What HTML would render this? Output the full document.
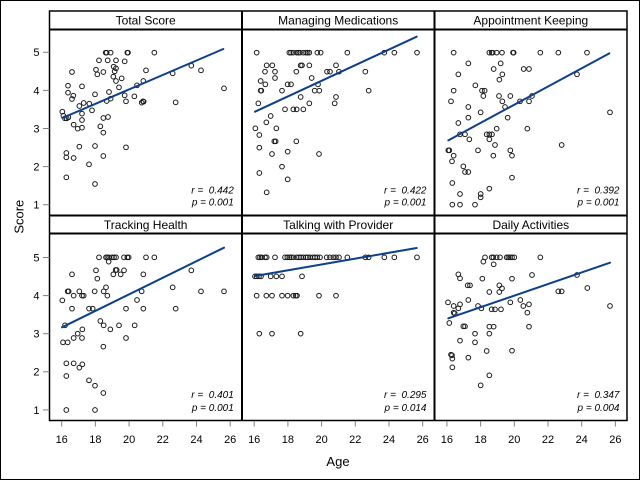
<!DOCTYPE html>
<html>
<head>
<meta charset="utf-8">
<style>
html,body{margin:0;padding:0;background:#fff;}
svg{display:block;}
text{font-family:"Liberation Sans",Arial,sans-serif;fill:#000;}
.pts circle{fill:none;stroke:#1a1a1a;stroke-width:3;}
.fit{stroke:#0e3f8a;stroke-width:6;fill:none;stroke-linecap:round;}
.tk{stroke:#808080;stroke-width:1;}
.fr{stroke:#000;fill:none;}
.tl{font-size:11px;}
.ttl{font-size:12px;}
.st{font-size:10px;font-style:italic;white-space:pre;}
</style>
</head>
<body>
<svg width="640" height="480" viewBox="0 0 640 480" xmlns="http://www.w3.org/2000/svg">
<rect x="0" y="0" width="640" height="480" fill="#fff"/>
<rect x="0.5" y="0.5" width="639" height="479" fill="none" stroke="#000" stroke-width="1"/>

<!-- Frames -->
<rect class="fr" x="49.5" y="11" width="577.5" height="409.5" stroke-width="1.5"/>
<line class="fr" x1="242" y1="11" x2="242" y2="420.5" stroke-width="2"/>
<line class="fr" x1="434.5" y1="11" x2="434.5" y2="420.5" stroke-width="2"/>
<line class="fr" x1="49.5" y1="29.5" x2="627" y2="29.5" stroke-width="2"/>
<line class="fr" x1="49.5" y1="215.5" x2="627" y2="215.5" stroke-width="2"/>
<line class="fr" x1="49.5" y1="233.5" x2="627" y2="233.5" stroke-width="2"/>

<!-- Titles -->
<text class="ttl" x="145.7" y="24.3" text-anchor="middle">Total Score</text>
<text class="ttl" x="338.2" y="24.3" text-anchor="middle">Managing Medications</text>
<text class="ttl" x="530.8" y="24.3" text-anchor="middle">Appointment Keeping</text>
<text class="ttl" x="145.7" y="229" text-anchor="middle">Tracking Health</text>
<text class="ttl" x="338.2" y="229" text-anchor="middle">Talking with Provider</text>
<text class="ttl" x="530.8" y="229" text-anchor="middle">Daily Activities</text>

<!-- Y ticks -->
<g class="tk">
<line x1="43" y1="52.3" x2="49.5" y2="52.3"/>
<line x1="43" y1="90.4" x2="49.5" y2="90.4"/>
<line x1="43" y1="128.5" x2="49.5" y2="128.5"/>
<line x1="43" y1="166.6" x2="49.5" y2="166.6"/>
<line x1="43" y1="204.7" x2="49.5" y2="204.7"/>
<line x1="43" y1="257.5" x2="49.5" y2="257.5"/>
<line x1="43" y1="295.6" x2="49.5" y2="295.6"/>
<line x1="43" y1="333.7" x2="49.5" y2="333.7"/>
<line x1="43" y1="371.8" x2="49.5" y2="371.8"/>
<line x1="43" y1="409.9" x2="49.5" y2="409.9"/>
</g>
<g class="tl" text-anchor="end">
<text x="39.5" y="56.2">5</text>
<text x="39.5" y="94.3">4</text>
<text x="39.5" y="132.4">3</text>
<text x="39.5" y="170.5">2</text>
<text x="39.5" y="208.6">1</text>
<text x="39.5" y="261.4">5</text>
<text x="39.5" y="299.5">4</text>
<text x="39.5" y="337.6">3</text>
<text x="39.5" y="375.7">2</text>
<text x="39.5" y="413.8">1</text>
</g>

<!-- X ticks -->
<g class="tk">
<line x1="61.7" y1="421" x2="61.7" y2="426.5"/>
<line x1="95.4" y1="421" x2="95.4" y2="426.5"/>
<line x1="129.1" y1="421" x2="129.1" y2="426.5"/>
<line x1="162.8" y1="421" x2="162.8" y2="426.5"/>
<line x1="196.5" y1="421" x2="196.5" y2="426.5"/>
<line x1="230.2" y1="421" x2="230.2" y2="426.5"/>
<line x1="254.2" y1="421" x2="254.2" y2="426.5"/>
<line x1="287.9" y1="421" x2="287.9" y2="426.5"/>
<line x1="321.6" y1="421" x2="321.6" y2="426.5"/>
<line x1="355.3" y1="421" x2="355.3" y2="426.5"/>
<line x1="389.0" y1="421" x2="389.0" y2="426.5"/>
<line x1="422.7" y1="421" x2="422.7" y2="426.5"/>
<line x1="446.9" y1="421" x2="446.9" y2="426.5"/>
<line x1="480.6" y1="421" x2="480.6" y2="426.5"/>
<line x1="514.3" y1="421" x2="514.3" y2="426.5"/>
<line x1="548.0" y1="421" x2="548.0" y2="426.5"/>
<line x1="581.7" y1="421" x2="581.7" y2="426.5"/>
<line x1="615.4" y1="421" x2="615.4" y2="426.5"/>
</g>
<g class="tl" text-anchor="middle">
<text x="61.7" y="443">16</text>
<text x="95.4" y="443">18</text>
<text x="129.1" y="443">20</text>
<text x="162.8" y="443">22</text>
<text x="196.5" y="443">24</text>
<text x="230.2" y="443">26</text>
<text x="254.2" y="443">16</text>
<text x="287.9" y="443">18</text>
<text x="321.6" y="443">20</text>
<text x="355.3" y="443">22</text>
<text x="389.0" y="443">24</text>
<text x="422.7" y="443">26</text>
<text x="446.9" y="443">16</text>
<text x="480.6" y="443">18</text>
<text x="514.3" y="443">20</text>
<text x="548.0" y="443">22</text>
<text x="581.7" y="443">24</text>
<text x="615.4" y="443">26</text>
</g>

<!-- Axis labels -->
<text x="338" y="466" text-anchor="middle" font-size="13">Age</text>
<text transform="translate(23.3,216.7) rotate(-90)" text-anchor="middle" font-size="13">Score</text>

<!-- Stats -->
<g class="st" text-anchor="end">
<text x="233.8" y="193.7" xml:space="preserve">r =  0.442</text>
<text x="233.8" y="205.4" xml:space="preserve">p = 0.001</text>
<text x="426.5" y="193.7" xml:space="preserve">r =  0.422</text>
<text x="426.5" y="205.4" xml:space="preserve">p = 0.001</text>
<text x="619.5" y="193.7" xml:space="preserve">r =  0.392</text>
<text x="619.5" y="205.4" xml:space="preserve">p = 0.001</text>
<text x="233.8" y="398" xml:space="preserve">r =  0.401</text>
<text x="233.8" y="411" xml:space="preserve">p = 0.001</text>
<text x="426.5" y="398" xml:space="preserve">r =  0.295</text>
<text x="426.5" y="411" xml:space="preserve">p = 0.014</text>
<text x="619.5" y="398" xml:space="preserve">r =  0.347</text>
<text x="619.5" y="411" xml:space="preserve">p = 0.004</text>
</g>

<!-- Panel 1: Total Score -->
<g class="pts" transform="translate(0,0) scale(0.33333)">
<circle cx="187" cy="335" r="7"/><circle cx="190" cy="347" r="7"/><circle cx="195" cy="355" r="7"/><circle cx="200" cy="355" r="7"/><circle cx="205" cy="352" r="7"/>
<circle cx="204" cy="257" r="7"/><circle cx="204" cy="278" r="7"/><circle cx="216" cy="216" r="7"/><circle cx="216" cy="297" r="7"/><circle cx="220" cy="287" r="7"/>
<circle cx="246" cy="259" r="7"/><circle cx="221" cy="374" r="7"/><circle cx="233" cy="386" r="7"/><circle cx="246" cy="383" r="7"/><circle cx="238" cy="318" r="7"/>
<circle cx="246" cy="341" r="7"/><circle cx="246" cy="360" r="7"/><circle cx="251" cy="309" r="7"/><circle cx="268" cy="311" r="7"/><circle cx="276" cy="331" r="7"/>
<circle cx="199" cy="459" r="7"/><circle cx="199" cy="472" r="7"/><circle cx="221" cy="474" r="7"/><circle cx="238" cy="440" r="7"/><circle cx="199" cy="532" r="7"/>
<circle cx="267" cy="493" r="7"/><circle cx="285" cy="438" r="7"/><circle cx="285" cy="552" r="7"/><circle cx="285" cy="283" r="7"/><circle cx="288" cy="209" r="7"/>
<circle cx="292" cy="223" r="7"/><circle cx="297" cy="181" r="7"/><circle cx="310" cy="216" r="7"/><circle cx="301" cy="379" r="7"/><circle cx="310" cy="398" r="7"/>
<circle cx="310" cy="354" r="7"/><circle cx="310" cy="468" r="7"/><circle cx="317" cy="158" r="7"/><circle cx="320" cy="158" r="7"/><circle cx="332" cy="158" r="7"/>
<circle cx="323" cy="181" r="7"/><circle cx="324" cy="351" r="7"/><circle cx="327" cy="276" r="7"/><circle cx="320" cy="303" r="7"/><circle cx="332" cy="296" r="7"/>
<circle cx="341" cy="200" r="7"/><circle cx="344" cy="214" r="7"/><circle cx="340" cy="230" r="7"/><circle cx="348" cy="181" r="7"/><circle cx="348" cy="205" r="7"/>
<circle cx="348" cy="243" r="7"/><circle cx="357" cy="262" r="7"/><circle cx="365" cy="235" r="7"/><circle cx="374" cy="184" r="7"/><circle cx="374" cy="286" r="7"/>
<circle cx="378" cy="304" r="7"/><circle cx="382" cy="158" r="7"/><circle cx="384" cy="158" r="7"/><circle cx="378" cy="442" r="7"/><circle cx="403" cy="289" r="7"/>
<circle cx="411" cy="256" r="7"/><circle cx="425" cy="308" r="7"/><circle cx="429" cy="304" r="7"/><circle cx="431" cy="305" r="7"/><circle cx="430" cy="243" r="7"/>
<circle cx="438" cy="211" r="7"/><circle cx="463" cy="158" r="7"/><circle cx="518" cy="220" r="7"/><circle cx="527" cy="307" r="7"/><circle cx="574" cy="197" r="7"/>
<circle cx="603" cy="211" r="7"/><circle cx="672" cy="265" r="7"/>
<line class="fit" x1="187" y1="354" x2="670" y2="147"/>
</g>

<!-- Panel 2: Managing Medications -->
<g class="pts" transform="translate(230,0) scale(0.33333)">
<circle cx="80" cy="158" r="7"/><circle cx="178" cy="158" r="7"/><circle cx="183" cy="158" r="7"/><circle cx="190" cy="158" r="7"/><circle cx="200" cy="158" r="7"/>
<circle cx="205" cy="158" r="7"/><circle cx="210" cy="158" r="7"/><circle cx="220" cy="158" r="7"/><circle cx="228" cy="158" r="7"/><circle cx="233" cy="158" r="7"/>
<circle cx="238" cy="158" r="7"/><circle cx="262" cy="158" r="7"/><circle cx="272" cy="158" r="7"/><circle cx="352" cy="158" r="7"/><circle cx="463" cy="158" r="7"/>
<circle cx="493" cy="158" r="7"/><circle cx="561" cy="158" r="7"/><circle cx="110" cy="196" r="7"/><circle cx="127" cy="196" r="7"/><circle cx="212" cy="196" r="7"/>
<circle cx="216" cy="196" r="7"/><circle cx="238" cy="196" r="7"/><circle cx="318" cy="196" r="7"/><circle cx="105" cy="215" r="7"/><circle cx="135" cy="215" r="7"/>
<circle cx="199" cy="215" r="7"/><circle cx="291" cy="215" r="7"/><circle cx="300" cy="215" r="7"/><circle cx="327" cy="215" r="7"/><circle cx="406" cy="215" r="7"/>
<circle cx="135" cy="234" r="7"/><circle cx="245" cy="234" r="7"/><circle cx="92" cy="243" r="7"/><circle cx="106" cy="253" r="7"/><circle cx="173" cy="253" r="7"/>
<circle cx="183" cy="253" r="7"/><circle cx="264" cy="253" r="7"/><circle cx="92" cy="272" r="7"/><circle cx="94" cy="272" r="7"/><circle cx="156" cy="272" r="7"/>
<circle cx="254" cy="272" r="7"/><circle cx="268" cy="272" r="7"/><circle cx="416" cy="272" r="7"/><circle cx="212" cy="291" r="7"/><circle cx="318" cy="291" r="7"/>
<circle cx="85" cy="310" r="7"/><circle cx="238" cy="310" r="7"/><circle cx="314" cy="310" r="7"/><circle cx="165" cy="328" r="7"/><circle cx="190" cy="328" r="7"/>
<circle cx="200" cy="328" r="7"/><circle cx="220" cy="328" r="7"/><circle cx="122" cy="348" r="7"/><circle cx="109" cy="367" r="7"/><circle cx="76" cy="385" r="7"/>
<circle cx="139" cy="385" r="7"/><circle cx="88" cy="405" r="7"/><circle cx="133" cy="424" r="7"/><circle cx="137" cy="424" r="7"/><circle cx="199" cy="424" r="7"/>
<circle cx="88" cy="443" r="7"/><circle cx="126" cy="462" r="7"/><circle cx="173" cy="455" r="7"/><circle cx="267" cy="462" r="7"/><circle cx="156" cy="500" r="7"/>
<circle cx="88" cy="519" r="7"/><circle cx="173" cy="538" r="7"/><circle cx="110" cy="577" r="7"/>
<line class="fit" x1="75" y1="335" x2="560" y2="110"/>
</g>

<!-- Panel 3: Appointment Keeping -->
<g class="pts" transform="translate(420,0) scale(0.33333)">
<circle cx="101" cy="158" r="7"/><circle cx="208" cy="158" r="7"/><circle cx="215" cy="158" r="7"/><circle cx="218" cy="158" r="7"/><circle cx="230" cy="158" r="7"/>
<circle cx="246" cy="158" r="7"/><circle cx="279" cy="158" r="7"/><circle cx="281" cy="158" r="7"/><circle cx="361" cy="158" r="7"/><circle cx="415" cy="158" r="7"/>
<circle cx="501" cy="158" r="7"/><circle cx="145" cy="190" r="7"/><circle cx="242" cy="190" r="7"/><circle cx="221" cy="207" r="7"/><circle cx="311" cy="207" r="7"/>
<circle cx="327" cy="207" r="7"/><circle cx="115" cy="223" r="7"/><circle cx="247" cy="223" r="7"/><circle cx="471" cy="223" r="7"/><circle cx="238" cy="239" r="7"/>
<circle cx="166" cy="256" r="7"/><circle cx="186" cy="272" r="7"/><circle cx="194" cy="272" r="7"/><circle cx="101" cy="272" r="7"/><circle cx="190" cy="288" r="7"/>
<circle cx="237" cy="288" r="7"/><circle cx="271" cy="288" r="7"/><circle cx="93" cy="304" r="7"/><circle cx="247" cy="304" r="7"/><circle cx="300" cy="304" r="7"/>
<circle cx="327" cy="304" r="7"/><circle cx="336" cy="288" r="7"/><circle cx="145" cy="321" r="7"/><circle cx="255" cy="321" r="7"/><circle cx="182" cy="337" r="7"/>
<circle cx="570" cy="337" r="7"/><circle cx="145" cy="353" r="7"/><circle cx="263" cy="353" r="7"/><circle cx="115" cy="369" r="7"/><circle cx="230" cy="386" r="7"/>
<circle cx="322" cy="386" r="7"/><circle cx="120" cy="403" r="7"/><circle cx="135" cy="403" r="7"/><circle cx="200" cy="403" r="7"/><circle cx="208" cy="403" r="7"/>
<circle cx="216" cy="403" r="7"/><circle cx="148" cy="418" r="7"/><circle cx="208" cy="418" r="7"/><circle cx="225" cy="435" r="7"/><circle cx="425" cy="435" r="7"/>
<circle cx="85" cy="451" r="7"/><circle cx="88" cy="451" r="7"/><circle cx="174" cy="451" r="7"/><circle cx="271" cy="451" r="7"/><circle cx="101" cy="467" r="7"/>
<circle cx="220" cy="467" r="7"/><circle cx="276" cy="467" r="7"/><circle cx="96" cy="484" r="7"/><circle cx="130" cy="499" r="7"/><circle cx="135" cy="516" r="7"/>
<circle cx="145" cy="516" r="7"/><circle cx="276" cy="533" r="7"/><circle cx="97" cy="549" r="7"/><circle cx="208" cy="566" r="7"/><circle cx="120" cy="582" r="7"/>
<circle cx="182" cy="582" r="7"/><circle cx="182" cy="592" r="7"/><circle cx="97" cy="614" r="7"/><circle cx="120" cy="614" r="7"/><circle cx="165" cy="614" r="7"/>
<line class="fit" x1="85" y1="421" x2="568" y2="160"/>
</g>

<!-- Panel 4: Tracking Health -->
<g class="pts" transform="translate(0,210) scale(0.33333)">
<circle cx="297" cy="142" r="7"/><circle cx="318" cy="142" r="7"/><circle cx="322" cy="142" r="7"/><circle cx="327" cy="142" r="7"/><circle cx="336" cy="142" r="7"/>
<circle cx="342" cy="142" r="7"/><circle cx="348" cy="142" r="7"/><circle cx="372" cy="142" r="7"/><circle cx="382" cy="142" r="7"/><circle cx="386" cy="142" r="7"/>
<circle cx="438" cy="142" r="7"/><circle cx="463" cy="142" r="7"/><circle cx="326" cy="155" r="7"/><circle cx="347" cy="180" r="7"/><circle cx="350" cy="180" r="7"/>
<circle cx="288" cy="181" r="7"/><circle cx="372" cy="181" r="7"/><circle cx="574" cy="181" r="7"/><circle cx="216" cy="193" r="7"/><circle cx="340" cy="193" r="7"/>
<circle cx="362" cy="193" r="7"/><circle cx="430" cy="193" r="7"/><circle cx="292" cy="206" r="7"/><circle cx="318" cy="232" r="7"/><circle cx="518" cy="232" r="7"/>
<circle cx="203" cy="244" r="7"/><circle cx="206" cy="244" r="7"/><circle cx="238" cy="244" r="7"/><circle cx="284" cy="244" r="7"/><circle cx="311" cy="244" r="7"/>
<circle cx="425" cy="244" r="7"/><circle cx="603" cy="244" r="7"/><circle cx="672" cy="244" r="7"/><circle cx="187" cy="271" r="7"/><circle cx="221" cy="257" r="7"/>
<circle cx="246" cy="257" r="7"/><circle cx="251" cy="257" r="7"/><circle cx="322" cy="257" r="7"/><circle cx="411" cy="270" r="7"/><circle cx="216" cy="296" r="7"/>
<circle cx="267" cy="296" r="7"/><circle cx="278" cy="296" r="7"/><circle cx="378" cy="296" r="7"/><circle cx="430" cy="296" r="7"/><circle cx="527" cy="296" r="7"/>
<circle cx="301" cy="333" r="7"/><circle cx="195" cy="346" r="7"/><circle cx="311" cy="346" r="7"/><circle cx="357" cy="346" r="7"/><circle cx="404" cy="346" r="7"/>
<circle cx="247" cy="358" r="7"/><circle cx="331" cy="358" r="7"/><circle cx="233" cy="371" r="7"/><circle cx="221" cy="384" r="7"/><circle cx="246" cy="384" r="7"/>
<circle cx="378" cy="384" r="7"/><circle cx="189" cy="397" r="7"/><circle cx="203" cy="397" r="7"/><circle cx="310" cy="410" r="7"/><circle cx="199" cy="460" r="7"/>
<circle cx="221" cy="460" r="7"/><circle cx="247" cy="463" r="7"/><circle cx="238" cy="473" r="7"/><circle cx="199" cy="498" r="7"/><circle cx="267" cy="511" r="7"/>
<circle cx="285" cy="527" r="7"/><circle cx="310" cy="549" r="7"/><circle cx="199" cy="600" r="7"/><circle cx="285" cy="600" r="7"/>
<line class="fit" x1="186" y1="352" x2="672" y2="113"/>
</g>

<!-- Panel 5: Talking with Provider -->
<g class="pts" transform="translate(230,210) scale(0.33333)">
<circle cx="85" cy="142" r="7"/><circle cx="90" cy="142" r="7"/><circle cx="95" cy="142" r="7"/><circle cx="105" cy="142" r="7"/><circle cx="110" cy="142" r="7"/>
<circle cx="135" cy="142" r="7"/><circle cx="165" cy="142" r="7"/><circle cx="172" cy="142" r="7"/><circle cx="178" cy="142" r="7"/><circle cx="183" cy="142" r="7"/>
<circle cx="190" cy="142" r="7"/><circle cx="200" cy="142" r="7"/><circle cx="207" cy="142" r="7"/><circle cx="213" cy="142" r="7"/><circle cx="220" cy="142" r="7"/>
<circle cx="228" cy="142" r="7"/><circle cx="233" cy="142" r="7"/><circle cx="240" cy="142" r="7"/><circle cx="248" cy="142" r="7"/><circle cx="255" cy="142" r="7"/>
<circle cx="262" cy="142" r="7"/><circle cx="270" cy="142" r="7"/><circle cx="290" cy="142" r="7"/><circle cx="300" cy="142" r="7"/><circle cx="310" cy="142" r="7"/>
<circle cx="318" cy="142" r="7"/><circle cx="327" cy="142" r="7"/><circle cx="352" cy="142" r="7"/><circle cx="406" cy="142" r="7"/><circle cx="416" cy="142" r="7"/>
<circle cx="463" cy="142" r="7"/><circle cx="493" cy="142" r="7"/><circle cx="561" cy="142" r="7"/>
<circle cx="75" cy="199" r="7"/><circle cx="80" cy="199" r="7"/><circle cx="87" cy="199" r="7"/><circle cx="93" cy="199" r="7"/><circle cx="122" cy="199" r="7"/>
<circle cx="139" cy="199" r="7"/><circle cx="156" cy="199" r="7"/><circle cx="216" cy="199" r="7"/>
<circle cx="80" cy="257" r="7"/><circle cx="109" cy="257" r="7"/><circle cx="126" cy="257" r="7"/><circle cx="156" cy="257" r="7"/><circle cx="173" cy="257" r="7"/>
<circle cx="190" cy="257" r="7"/><circle cx="197" cy="257" r="7"/><circle cx="201" cy="257" r="7"/><circle cx="267" cy="257" r="7"/><circle cx="318" cy="257" r="7"/>
<circle cx="88" cy="371" r="7"/><circle cx="126" cy="371" r="7"/><circle cx="212" cy="371" r="7"/>
<line class="fit" x1="75" y1="198" x2="560" y2="114"/>
</g>

<!-- Panel 6: Daily Activities -->
<g class="pts" transform="translate(420,210) scale(0.33333)">
<circle cx="195" cy="142" r="7"/><circle cx="215" cy="142" r="7"/><circle cx="220" cy="142" r="7"/><circle cx="230" cy="142" r="7"/><circle cx="240" cy="142" r="7"/>
<circle cx="260" cy="142" r="7"/><circle cx="265" cy="142" r="7"/><circle cx="270" cy="142" r="7"/><circle cx="276" cy="142" r="7"/><circle cx="283" cy="142" r="7"/>
<circle cx="361" cy="142" r="7"/><circle cx="190" cy="155" r="7"/><circle cx="221" cy="163" r="7"/><circle cx="115" cy="193" r="7"/><circle cx="120" cy="205" r="7"/>
<circle cx="187" cy="206" r="7"/><circle cx="276" cy="206" r="7"/><circle cx="336" cy="195" r="7"/><circle cx="471" cy="195" r="7"/><circle cx="143" cy="226" r="7"/>
<circle cx="150" cy="226" r="7"/><circle cx="238" cy="226" r="7"/><circle cx="246" cy="235" r="7"/><circle cx="502" cy="234" r="7"/><circle cx="208" cy="246" r="7"/>
<circle cx="238" cy="246" r="7"/><circle cx="415" cy="244" r="7"/><circle cx="425" cy="244" r="7"/><circle cx="84" cy="277" r="7"/><circle cx="145" cy="270" r="7"/>
<circle cx="101" cy="288" r="7"/><circle cx="120" cy="283" r="7"/><circle cx="115" cy="295" r="7"/><circle cx="174" cy="288" r="7"/><circle cx="184" cy="295" r="7"/>
<circle cx="271" cy="277" r="7"/><circle cx="301" cy="270" r="7"/><circle cx="310" cy="288" r="7"/><circle cx="327" cy="283" r="7"/><circle cx="570" cy="288" r="7"/>
<circle cx="101" cy="308" r="7"/><circle cx="104" cy="310" r="7"/><circle cx="215" cy="298" r="7"/><circle cx="225" cy="298" r="7"/><circle cx="243" cy="298" r="7"/>
<circle cx="322" cy="308" r="7"/><circle cx="88" cy="339" r="7"/><circle cx="130" cy="349" r="7"/><circle cx="135" cy="349" r="7"/><circle cx="208" cy="350" r="7"/>
<circle cx="221" cy="350" r="7"/><circle cx="327" cy="350" r="7"/><circle cx="165" cy="371" r="7"/><circle cx="208" cy="371" r="7"/><circle cx="120" cy="392" r="7"/>
<circle cx="165" cy="397" r="7"/><circle cx="200" cy="423" r="7"/><circle cx="276" cy="422" r="7"/><circle cx="93" cy="434" r="7"/><circle cx="96" cy="436" r="7"/>
<circle cx="97" cy="446" r="7"/><circle cx="145" cy="443" r="7"/><circle cx="97" cy="472" r="7"/><circle cx="208" cy="496" r="7"/><circle cx="182" cy="526" r="7"/>
<line class="fit" x1="85" y1="325" x2="570" y2="158"/>
</g>
</svg>
</body>
</html>
